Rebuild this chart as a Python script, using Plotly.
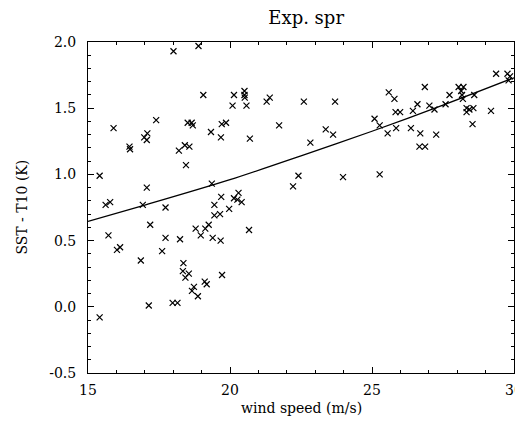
import plotly.graph_objects as go

# scatter data (wind speed m/s, SST - T10 K)
wind = [15.41, 15.90, 16.46, 16.48, 16.98, 17.09, 17.07, 17.40, 18.01, 18.89,
        19.06, 18.20, 18.41, 18.57, 18.45, 18.51, 18.65, 18.69, 19.33, 19.68,
        19.71, 19.86,
        17.07, 19.36, 19.69, 19.45, 19.45, 19.65, 15.62, 15.78, 16.93, 17.73,
        17.19, 15.72, 16.02, 16.13, 17.73, 18.24, 17.61, 16.86, 18.79, 18.97,
        19.13, 19.25, 19.39, 19.67, 18.36, 18.34, 18.55, 18.43, 19.11, 19.18,
        19.72, 18.73, 18.66, 18.87, 17.14, 17.98, 18.15, 15.41,
        20.14, 20.51, 20.51, 20.52, 20.09, 20.58, 21.40, 21.29, 22.60, 23.70,
        21.73, 20.70, 23.37, 23.63, 22.83, 22.41, 23.98,
        22.22, 20.30, 20.14, 20.26, 20.41, 19.97, 20.67,
        25.59, 25.79, 26.86, 25.83, 25.99, 26.44, 26.60, 27.02, 27.20, 27.59,
        27.73, 28.05, 28.22, 28.14, 28.17, 28.20, 28.60, 28.33, 28.43, 28.57,
        28.33, 29.19, 28.54, 25.09, 25.27, 25.55, 25.85, 26.37, 26.70, 27.26,
        26.67, 26.87, 29.37, 29.77, 29.86, 29.81, 25.27]
sst_t10 = [0.99, 1.35, 1.21, 1.19, 1.28, 1.31, 1.26, 1.41, 1.93, 1.97,
           1.60, 1.18, 1.22, 1.21, 1.07, 1.39, 1.39, 1.37, 1.32, 1.28,
           1.38, 1.39,
           0.90, 0.93, 0.83, 0.77, 0.69, 0.70, 0.77, 0.79, 0.77, 0.75,
           0.62, 0.54, 0.43, 0.45, 0.52, 0.51, 0.42, 0.35, 0.59, 0.54,
           0.59, 0.62, 0.52, 0.50, 0.33, 0.27, 0.25, 0.22, 0.19, 0.17,
           0.24, 0.15, 0.12, 0.08, 0.01, 0.03, 0.03, -0.08,
           1.60, 1.63, 1.60, 1.58, 1.52, 1.52, 1.58, 1.55, 1.55, 1.55,
           1.37, 1.27, 1.34, 1.30, 1.24, 0.99, 0.98,
           0.91, 0.86, 0.82, 0.81, 0.79, 0.74, 0.58,
           1.62, 1.57, 1.66, 1.47, 1.47, 1.48, 1.53, 1.52, 1.49, 1.53,
           1.60, 1.66, 1.66, 1.63, 1.60, 1.57, 1.60, 1.50, 1.49, 1.50,
           1.47, 1.48, 1.38, 1.42, 1.37, 1.31, 1.35, 1.35, 1.31, 1.30,
           1.21, 1.21, 1.76, 1.76, 1.74, 1.71, 1.00]

# fitted curve
fit_x = [15, 17, 20, 22.5, 25, 27.5, 30]
fit_y = [0.645, 0.768, 0.96, 1.14, 1.326, 1.523, 1.73]

x_ticks = [15, 20, 25, 30]
y_ticks = [-0.5, 0.0, 0.5, 1.0, 1.5, 2.0]

font = "DejaVu Serif"

fig = go.Figure()
fig.add_trace(go.Scatter(x=wind, y=sst_t10, mode="markers",
                         marker=dict(symbol="x-thin-open", size=6, color="black",
                                     line=dict(width=1.2, color="black")),
                         showlegend=False, cliponaxis=False))
fig.add_trace(go.Scatter(x=fit_x, y=fit_y, mode="lines", line_shape="spline",
                         line=dict(color="black", width=1.3, smoothing=0.8),
                         showlegend=False))

axis_common = dict(showline=True, linecolor="black", linewidth=1, mirror="allticks",
                   ticks="inside", ticklen=6, tickcolor="black", showgrid=False,
                   zeroline=False, automargin=False,
                   tickfont=dict(family=font, size=14, color="black"))

fig.update_xaxes(range=[15, 30], tickvals=x_ticks, ticktext=[str(v) for v in x_ticks],
                 ticklabelstandoff=4,
                 minor=dict(ticks="inside", ticklen=3, dtick=1, tick0=15, tickcolor="black"),
                 **axis_common)
fig.update_yaxes(range=[-0.5, 2.0], tickvals=y_ticks, ticktext=[f"{v:.1f}" for v in y_ticks],
                 ticklabelstandoff=8,
                 minor=dict(ticks="inside", ticklen=3, dtick=0.1, tick0=0, tickcolor="black"),
                 **axis_common)

fig.add_annotation(text="wind speed (m/s)", xref="paper", yref="paper",
                   x=0.5, y=-0.106, xanchor="center", yanchor="middle", showarrow=False,
                   font=dict(family=font, size=14, color="black"))
fig.add_annotation(text="SST - T10 (K)", xref="paper", yref="paper", textangle=-90,
                   x=-0.157, y=0.5, xanchor="center", yanchor="middle", showarrow=False,
                   font=dict(family=font, size=14, color="black"))

# page body has an 8px default margin; size the figure so the plot lands where the reference has it
fig.update_layout(
    width=515, height=421,
    margin=dict(l=80, r=9, t=34, b=56),
    paper_bgcolor="white", plot_bgcolor="white",
    title=dict(text="Exp. spr", x=0.579, xanchor="center", y=0.976, yanchor="middle",
               font=dict(family=font, size=18, color="black")),
)

fig.write_html("out.html")
